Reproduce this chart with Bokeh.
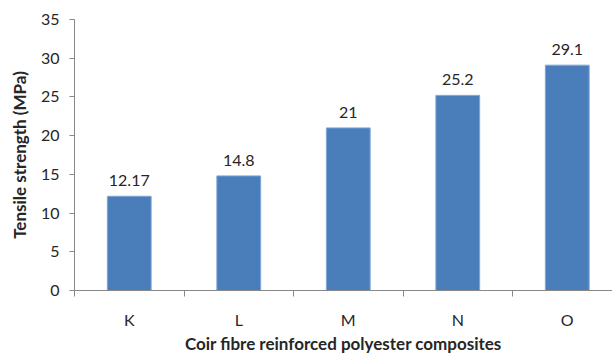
from bokeh.plotting import figure
from bokeh.models import FixedTicker, ColumnDataSource
from bokeh.embed import file_html
from bokeh.resources import INLINE
from bokeh.core.properties import value

categories = ["K", "L", "M", "N", "O"]
strength = [12.17, 14.8, 21, 25.2, 29.1]
labels = ["12.17", "14.8", "21", "25.2", "29.1"]
y_ticks = [0, 5, 10, 15, 20, 25, 30, 35]

xpos = [i + 0.5 for i in range(len(categories))]
src = ColumnDataSource(dict(x=xpos, top=strength, lab=labels))

FONT = "Lato"
p = figure(width=612, height=356, output_backend="svg", toolbar_location=None,
           x_range=(0, 4.913), y_range=(0, 35),
           min_border_left=74, min_border_right=0, min_border_top=19, min_border_bottom=20)
p.outline_line_color = None
p.xgrid.visible = False
p.ygrid.visible = False

p.vbar(x="x", top="top", width=0.4, bottom=0, source=src,
       fill_color="#4A7EBB", line_color="#7FA6D6", line_width=1)
p.text(x="x", y="top", text="lab", source=src, text_align="center", text_baseline="bottom",
       y_offset=-10, text_font=value(FONT), text_font_size="16px", text_color="#262626")

xa = p.xaxis[0]
xa.ticker = FixedTicker(ticks=xpos, minor_ticks=[0, 1, 2, 3, 4, 5])
xa.major_label_overrides = {x: c for x, c in zip(xpos, categories)}
xa.major_tick_out = 0
xa.major_tick_in = 0
xa.minor_tick_out = 6
xa.minor_tick_in = 0
xa.minor_tick_line_color = "#888888"
xa.axis_line_color = "#888888"
xa.major_label_standoff = 13
xa.major_label_text_font = FONT
xa.major_label_text_font_size = "16px"
xa.major_label_text_color = "#262626"
xa.axis_label = "Coir fibre reinforced polyester composites"
xa.axis_label_text_font = FONT
xa.axis_label_text_font_style = "bold"
xa.axis_label_text_font_size = "17px"
xa.axis_label_text_color = "#262626"
xa.axis_label_standoff = 1

ya = p.yaxis[0]
ya.ticker = FixedTicker(ticks=y_ticks, minor_ticks=[])
ya.major_tick_out = 5
ya.major_tick_in = 0
ya.major_tick_line_color = "#888888"
ya.axis_line_color = "#888888"
ya.major_label_standoff = 10
ya.major_label_text_font = FONT
ya.major_label_text_font_size = "16px"
ya.major_label_text_color = "#262626"
ya.axis_label = "Tensile strength (MPa)"
ya.axis_label_text_font = FONT
ya.axis_label_text_font_style = "bold"
ya.axis_label_text_font_size = "17px"
ya.axis_label_text_color = "#262626"
ya.axis_label_standoff = 8

open("out.html", "w").write(file_html(p, INLINE))
